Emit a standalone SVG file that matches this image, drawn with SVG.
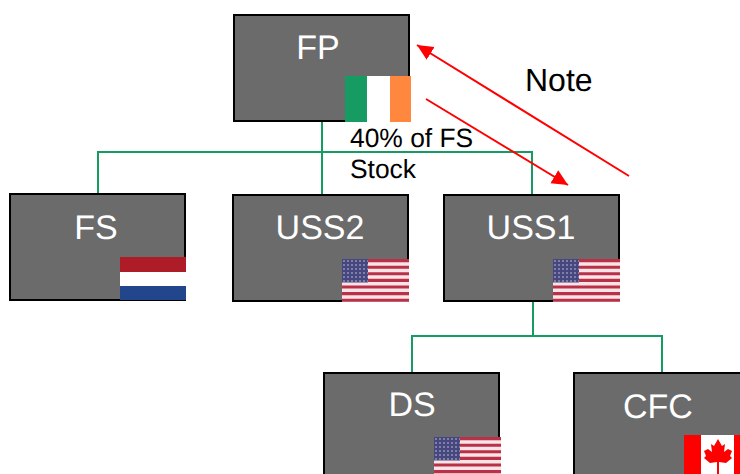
<svg xmlns="http://www.w3.org/2000/svg" xmlns:xlink="http://www.w3.org/1999/xlink" width="740" height="474" viewBox="0 0 740 474">
<style>
text{text-rendering:geometricPrecision}
.box{fill:#6b6b6b;stroke:#000;stroke-width:2}
.lbl{font-family:"Liberation Sans",Arial,sans-serif;font-size:34px;fill:#fff;text-anchor:middle}
.txt{font-family:"Liberation Sans",Arial,sans-serif;fill:#000}
.conn{fill:none;stroke:#169b62;stroke-width:2}
.red{stroke:#f00;stroke-width:2;fill:none;marker-end:url(#ah)}
</style>
<defs>
<marker id="ah" markerUnits="userSpaceOnUse" markerWidth="18" markerHeight="16" refX="16" refY="7.5" orient="auto"><path d="M0 0L16 7.5L0 15Z" fill="#f00"/></marker>
<pattern id="stars" width="4" height="4" patternUnits="userSpaceOnUse"><rect width="4" height="4" fill="#474780"/><rect x="1" y="1" width="2" height="2" fill="#7f7fa8"/></pattern>
<g id="us">
<rect width="67" height="43" fill="#f6e4e6"/>
<path d="M0 1.6H67M0 8.2H67M0 14.8H67M0 21.4H67M0 28H67M0 34.6H67M0 41.2H67" stroke="#bb3049" stroke-width="3.1" fill="none"/>
<rect width="26" height="23.5" fill="url(#stars)"/>
</g>
</defs>
<g id="connectors">
<path class="conn" d="M322 121V195M98 194V152H532V195"/>
<path class="conn" d="M533 301V335M412 373V336H662V373"/>
</g>
<g id="FP"><rect class="box" x="234" y="15" width="175" height="106"/><text class="lbl" x="318" y="59">FP</text>
<rect x="345" y="76" width="22" height="46" fill="#169b62"/><rect x="367" y="76" width="23" height="46" fill="#fff"/><rect x="390" y="76" width="21" height="46" fill="#ff883e"/></g>
<g id="FS"><rect class="box" x="10" y="194" width="175" height="106"/><text class="lbl" x="96" y="239">FS</text>
<rect x="120" y="257" width="66" height="15" fill="#ae1c28"/><rect x="120" y="272" width="66" height="14" fill="#fff"/><rect x="120" y="286" width="66" height="14" fill="#21468b"/></g>
<g id="USS2"><rect class="box" x="233" y="195" width="175" height="106"/><text class="lbl" x="320" y="239">USS2</text>
<use xlink:href="#us" href="#us" x="342" y="259"/></g>
<g id="USS1"><rect class="box" x="444" y="195" width="175" height="106"/><text class="lbl" x="531" y="239">USS1</text>
<use xlink:href="#us" href="#us" x="553" y="259"/></g>
<g id="DS"><rect class="box" x="324" y="373" width="175" height="106"/><text class="lbl" x="412" y="416">DS</text>
<use xlink:href="#us" href="#us" x="434" y="437"/></g>
<g id="CFC"><rect class="box" x="574" y="373" width="175" height="106"/><text class="lbl" x="658" y="418">CFC</text>
<rect x="684" y="435" width="56" height="39" fill="#fff"/><rect x="684" y="435" width="17" height="39" fill="#f00"/><rect x="734" y="435" width="6" height="39" fill="#f00"/>
<path d="M718 439L722 446L725 444L724 452L728 449L732 451L730 456L732 458L726 463L719 462V474H717V462L710 463L704 458L706 456L704 451L708 449L712 452L711 444L714 446Z" fill="#f00"/></g>
<g id="notes">
<line class="red" x1="629" y1="176" x2="417" y2="45"/>
<line class="red" x1="426" y1="99" x2="568" y2="185"/>
<text class="txt" x="525" y="91" font-size="32">Note</text>
<text class="txt" x="350" y="147" font-size="26.4">40% of FS</text>
<text class="txt" x="350" y="178" font-size="26.4">Stock</text>
</g>
</svg>
